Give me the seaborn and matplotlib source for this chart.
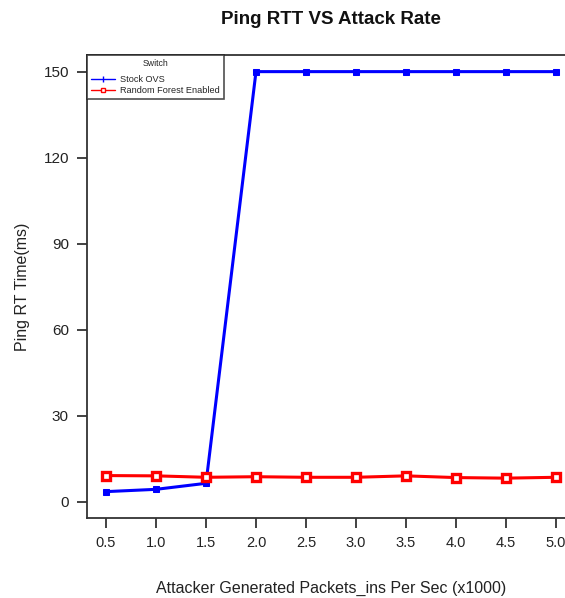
import matplotlib
matplotlib.use("Agg")
import matplotlib.pyplot as plt
import seaborn as sns
import pandas as pd
from matplotlib.lines import Line2D

# Attack rate in thousands of packet_ins per second
rates = [0.5, 1.0, 1.5, 2.0, 2.5, 3.0, 3.5, 4.0, 4.5, 5.0]
stock_ovs = [3.5, 4.3, 6.4, 150, 150, 150, 150, 150, 150, 150]
random_forest = [9.1, 9.0, 8.5, 8.7, 8.5, 8.5, 9.0, 8.4, 8.2, 8.5]
series_names = ["Stock OVS", "Random Forest Enabled"]
x_ticks = [0.5, 1.0, 1.5, 2.0, 2.5, 3.0, 3.5, 4.0, 4.5, 5.0]
y_ticks = [0, 30, 60, 90, 120, 150]

df = pd.DataFrame({
    "rate": rates * 2,
    "rtt": stock_ovs + random_forest,
    "switch": [series_names[0]] * len(rates) + [series_names[1]] * len(rates),
})

sns.set_style("ticks")
plt.rcParams["font.family"] = ["Liberation Sans", "DejaVu Sans"]

fig = plt.figure(figsize=(5.65, 5.98), dpi=100)
ax = fig.add_axes([87 / 565, 80 / 598, 488 / 565, 463 / 598])

sns.lineplot(data=df[df["switch"] == series_names[0]], x="rate", y="rtt",
             color="#0000ff", marker="s", markersize=5, linewidth=2.2,
             markeredgecolor="#0000ff", ax=ax, legend=False)
sns.lineplot(data=df[df["switch"] == series_names[1]], x="rate", y="rtt",
             color="#ff0000", marker="s", markersize=5.5, linewidth=2.2,
             markerfacecolor="white", markeredgecolor="#ff0000",
             markeredgewidth=2.4, ax=ax, legend=False)

ax.set_xlim(0.31, 5.19)
ax.set_ylim(-5.7, 155.8)
ax.set_xticks(x_ticks)
ax.set_xticklabels([f"{v:.1f}" for v in x_ticks])
ax.set_yticks(y_ticks)

for s in ax.spines.values():
    s.set_color("#333333")
    s.set_linewidth(1.3)
ax.tick_params(axis="both", direction="out", length=7, width=1.3,
               color="#333333", labelsize=11, labelcolor="#222222", pad=6)
ax.tick_params(axis="x", labelsize=10.5)

ax.set_xlabel("Attacker Generated Packets_ins Per Sec (x1000)", fontsize=11.5,
              color="#222222", labelpad=22)
ax.set_ylabel("Ping RT Time(ms)", fontsize=11.5, color="#222222", labelpad=10)
ax.set_title("Ping RTT VS Attack Rate", fontsize=13.5, fontweight="bold",
             color="#111111", pad=22)

handles = [
    Line2D([], [], color="#0000ff", marker="|", markersize=4, linewidth=1),
    Line2D([], [], color="#ff0000", marker="s", markersize=3,
           markerfacecolor="white", linewidth=1),
]
leg = ax.legend(handles, series_names, title="Switch", loc="upper left",
                bbox_to_anchor=(0, 1), borderaxespad=0, fontsize=6.6,
                title_fontsize=6.3, fancybox=False, frameon=True,
                handlelength=2.6, handletextpad=0.6, borderpad=0.45,
                labelspacing=0.2)
leg._legend_box.sep = 5
leg.get_frame().set_edgecolor("#222222")
leg.get_frame().set_linewidth(1.2)

fig.savefig("out.png", dpi=100)
